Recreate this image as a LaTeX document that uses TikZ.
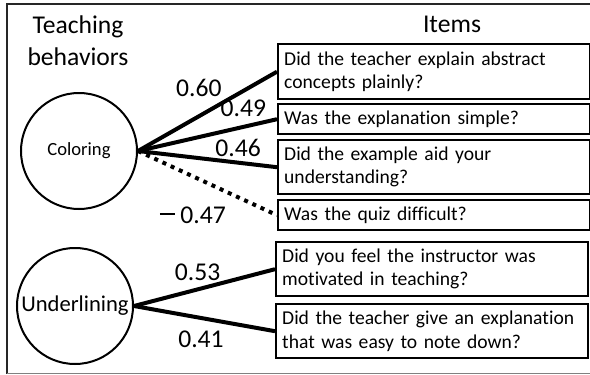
\documentclass[tikz,border=0pt]{standalone}
\usepackage{fontspec}
\setmainfont{Carlito}[Ligatures=NoCommon]
\usetikzlibrary{positioning}

\begin{document}
\begin{tikzpicture}[x=0.5pt, y=-0.5pt,
   factor/.style={circle, draw, line width=1pt, minimum size=58pt, inner sep=0pt},
   item/.style={draw, line width=1.2pt, anchor=north west, text width=150pt,
                align=left, inner sep=3pt, font=\fontsize{9.8}{11.6}\selectfont},
   load/.style={line width=2pt},
   lbl/.style={inner sep=1pt, font=\fontsize{12.8}{15}\selectfont},
   title/.style={align=center, font=\fontsize{12.8}{16}\selectfont}]

   \useasboundingbox (0,0) rectangle (590,375);
   % outer frame
   \draw[black!85, line width=1pt] (600,4) -- (6.5,4) -- (6.5,374);
   \draw[gray, line width=0.6pt] (6.5,373.5) -- (600,373.5);

   \node[title] (behav) at (78,41) {Teaching\\behaviors};
   \node[title] (items) at (452,24) {Items};

   \node[factor, font=\fontsize{9.3}{11}\selectfont] (col) at (79,151) {Coloring};
   \node[factor, font=\fontsize{11.3}{13}\selectfont] (und) at (75,306) {Underlining};

   \node[item, minimum height=27.5pt] (q1) at (277,43)
        {Did the teacher explain abstract\\concepts plainly?};
   \node[item, minimum height=15pt] (q2) at (277,103)
        {Was the explanation simple?};
   \node[item, minimum height=27pt] (q3) at (277,139)
        {Did the example aid your\\understanding?};
   \node[item, minimum height=15pt] (q4) at (277,199)
        {Was the quiz difficult?};
   \node[item, minimum height=27pt] (q5) at (275,241)
        {Did you feel the instructor was\\motivated in teaching?};
   \node[item, minimum height=27pt] (q6) at (275,303)
        {Did the teacher give an explanation\\that was easy to note down?};

   % loadings
   \draw[load] (col.east) -- node[lbl, pos=0.63, anchor=south east] {0.60} (q1.west);
   \draw[load] (col.east) -- node[lbl, pos=0.95, anchor=south east] {0.49} (q2.west);
   \draw[load] (col.east) -- node[lbl, pos=0.72, anchor=south, yshift=1pt] {0.46} (q3.west);
   \draw[load, dash pattern=on 2pt off 2.5pt] (col.east)
        -- node[lbl, pos=0.66, anchor=north east, yshift=-5pt]
           {\rule[0.36em]{0.6em}{0.07em}\hspace{0.2em}0.47} (q4.west);
   \draw[load] (und.east) -- node[lbl, pos=0.64, anchor=south east, yshift=-1pt] {0.53} (q5.west);
   \draw[load] (und.east) -- node[lbl, pos=0.475, anchor=north, yshift=-4.3pt] {0.41} (q6.west);
\end{tikzpicture}
\end{document}
